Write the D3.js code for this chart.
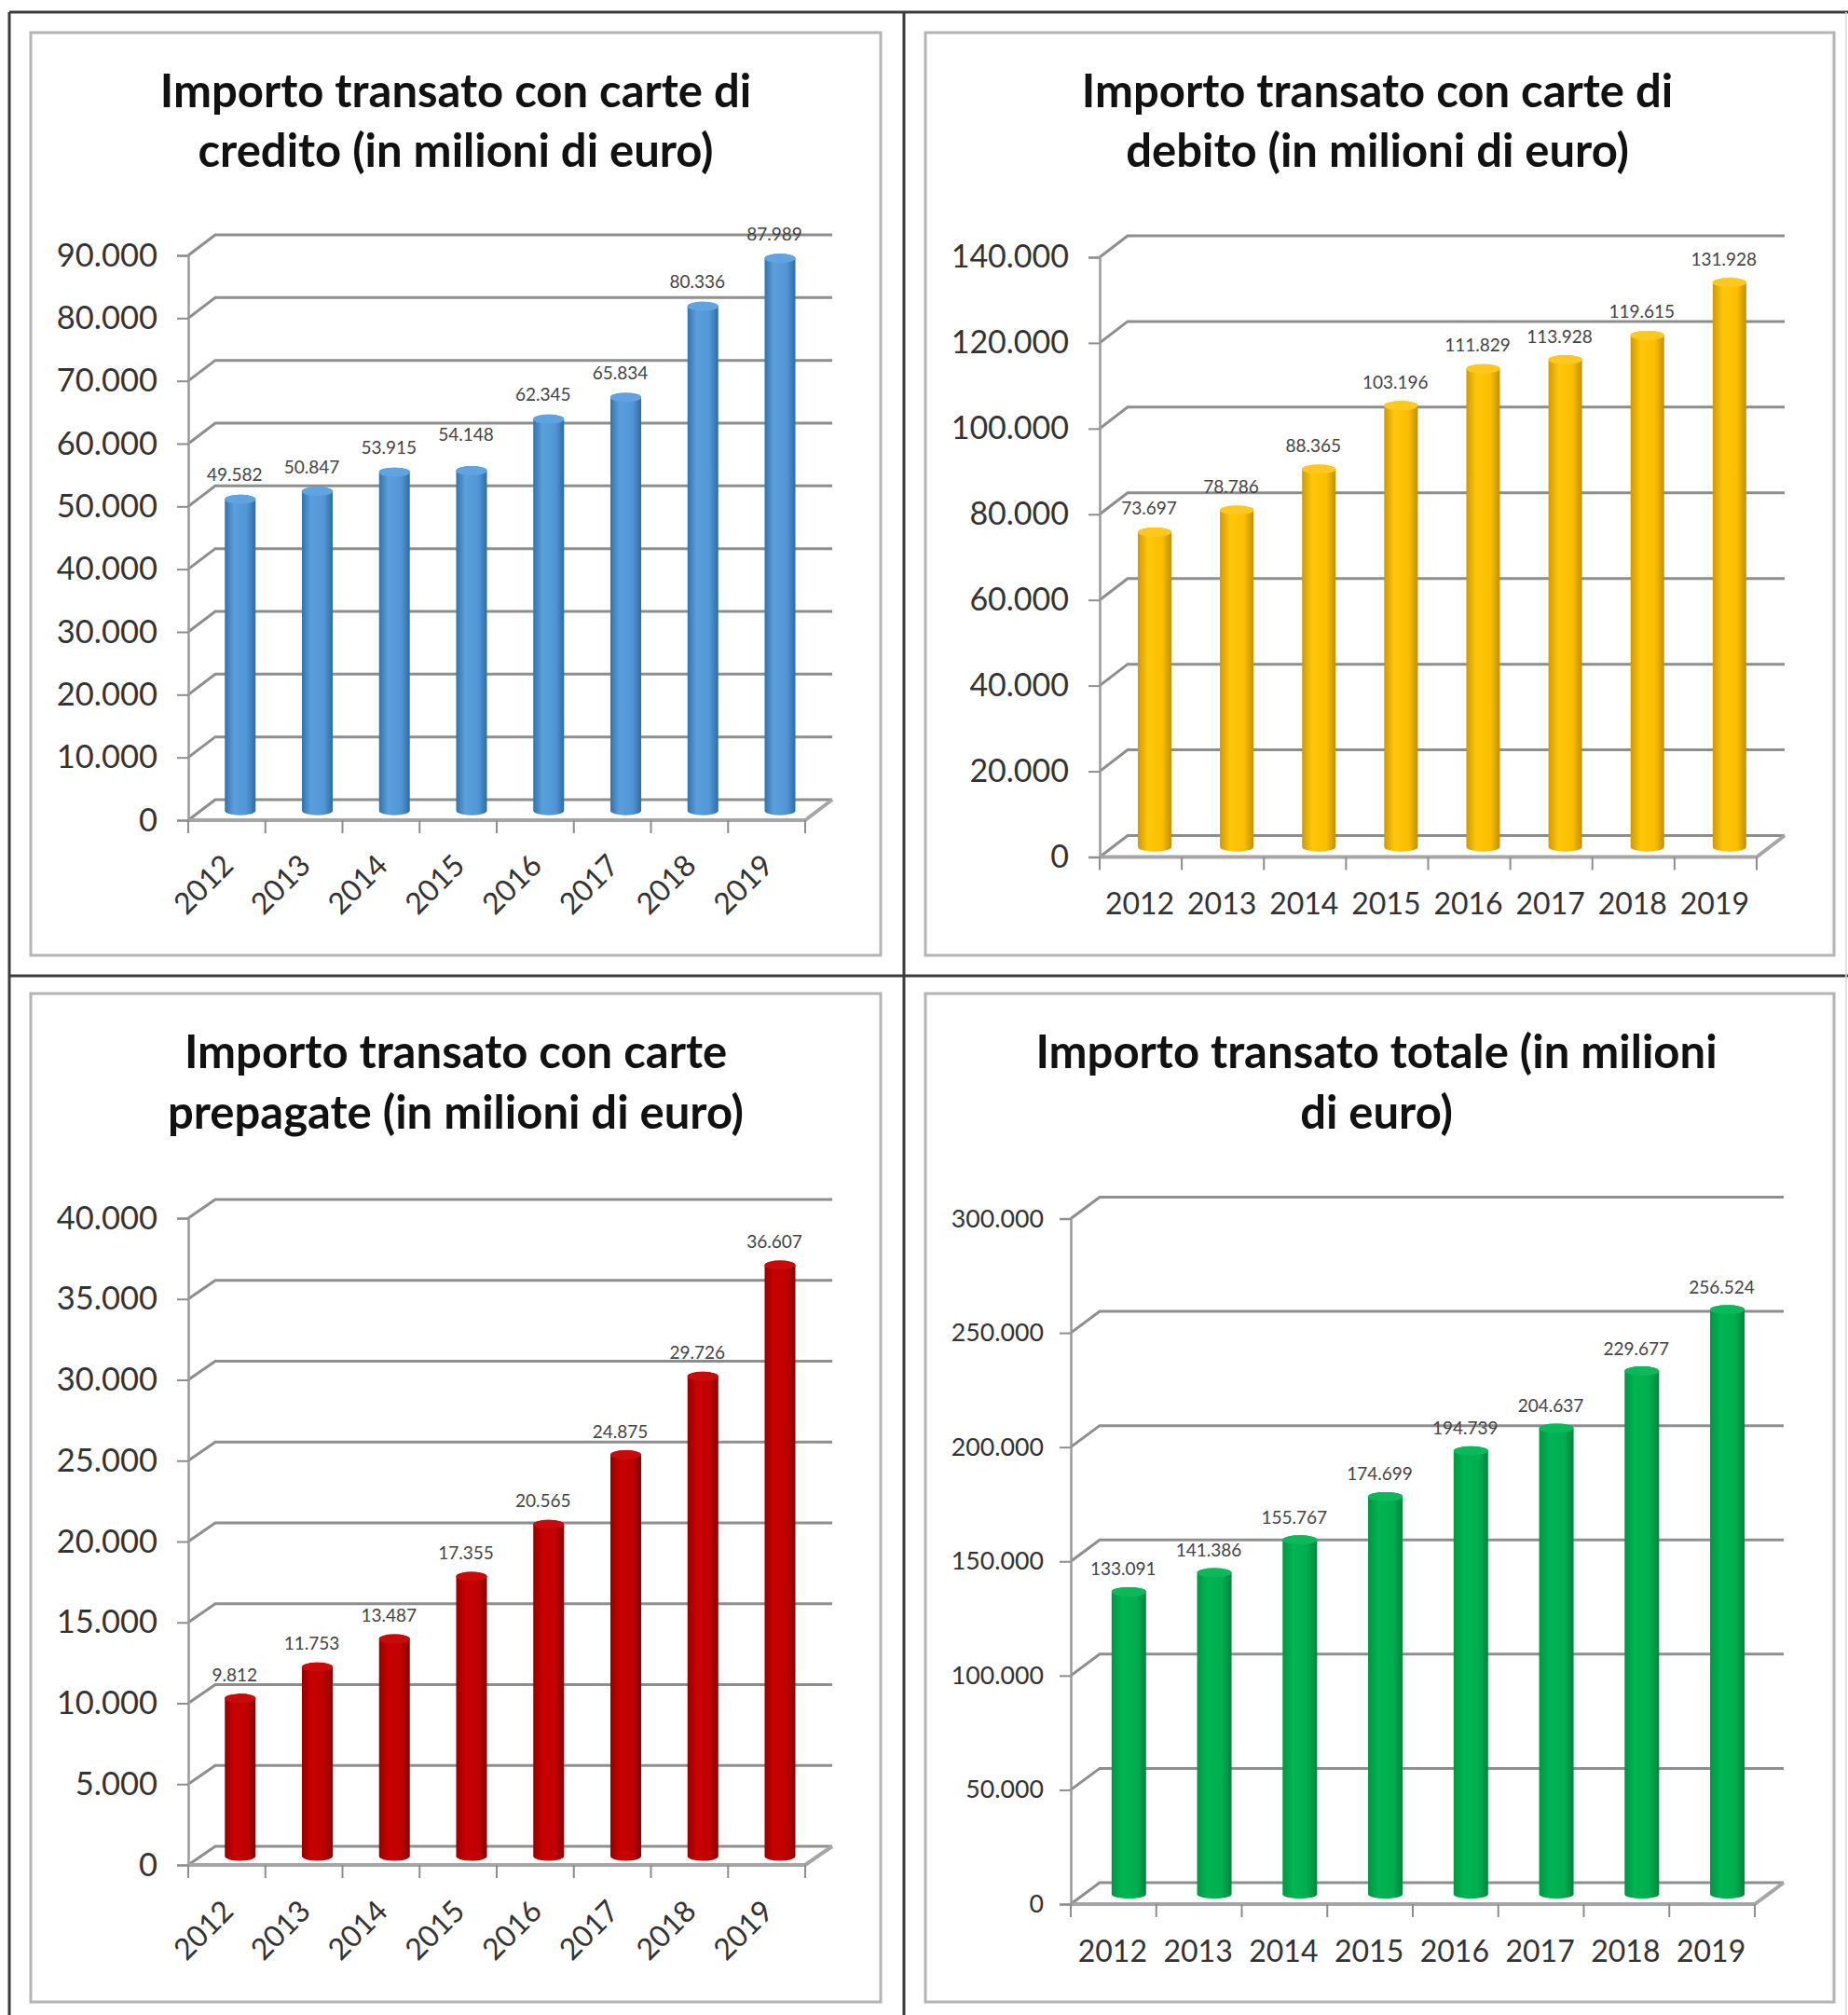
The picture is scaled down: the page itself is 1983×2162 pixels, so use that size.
<!DOCTYPE html>
<html>
<head>
<meta charset="utf-8">
<script src="https://cdn.jsdelivr.net/npm/d3@7"></script>
<style>
  html, body { margin: 0; padding: 0; background: #fff; }
  svg { display: block; }
  text { font-family: Lato, "Open Sans", sans-serif; }
</style>
</head>
<body>
<svg id="chart" width="1983" height="2162"></svg>
<script>
// Amounts transacted per year, in millions of euro
const years = [2012, 2013, 2014, 2015, 2016, 2017, 2018, 2019];
const creditValues = [49582, 50847, 53915, 54148, 62345, 65834, 80336, 87989];
const debitValues = [73697, 78786, 88365, 103196, 111829, 113928, 119615, 131928];
const prepaidValues = [9812, 11753, 13487, 17355, 20565, 24875, 29726, 36607];
const totalValues = [133091, 141386, 155767, 174699, 194739, 204637, 229677, 256524];

const creditTitle = ["Importo transato con carte di", "credito (in milioni di euro)"];
const debitTitle = ["Importo transato con carte di", "debito (in milioni di euro)"];
const prepaidTitle = ["Importo transato con carte", "prepagate (in milioni di euro)"];
const totalTitle = ["Importo transato totale (in milioni", "di euro)"];

// Panel geometry and styling
const panels = [
  { title: creditTitle, values: creditValues, max: 90000, step: 10000,
    box: [33, 35, 945, 1025], titleX: 489, titleY: [96, 160],
    front: [202, 864], y0: 880, yTop: 274, depth: [29, -22], barW: 33,
    tickFont: 34.5, yearFont: 32, rotated: true, yearY: 948, labelGap: 22, barTopDrop: 0, barShift: -1,
    colors: ["#3273ad", "#5b9fdc", "#5096d6", "#2f6ca6"], cap: "#5fa3e0", labelLift: { 2015: 13 } },
  { title: debitTitle, values: debitValues, max: 140000, step: 20000,
    box: [993, 35, 1968, 1025], titleX: 1478, titleY: [96, 160],
    front: [1180, 1885], y0: 919.5, yTop: 276, depth: [30, -23], barW: 36,
    tickFont: 34, yearFont: 32, rotated: false, yearY: 968, labelGap: 21, barTopDrop: 1, barShift: -1,
    colors: ["#d09a00", "#ffc60a", "#fcbf00", "#c29000"], cap: "#ffc81e", labelLift: {} },
  { title: prepaidTitle, values: prepaidValues, max: 40000, step: 5000,
    box: [33, 1066, 945, 2148], titleX: 489, titleY: [1127, 1192],
    front: [202, 864], y0: 2001, yTop: 1307, depth: [29, -20], barW: 33,
    tickFont: 34.5, yearFont: 32, rotated: true, yearY: 2070, labelGap: 21, barTopDrop: 1, barShift: -1,
    colors: ["#960000", "#c80000", "#c00000", "#880000"], cap: "#c80a0a", labelLift: {} },
  { title: totalTitle, values: totalValues, max: 300000, step: 50000,
    box: [993, 1066, 1968, 2148], titleX: 1477, titleY: [1127, 1192],
    front: [1149, 1883], y0: 2043, yTop: 1307.5, depth: [31, -23], barW: 37,
    tickFont: 26.7, yearFont: 32, rotated: false, yearY: 2092, labelGap: 20, barTopDrop: 2, barShift: 0,
    colors: ["#009644", "#00b552", "#00ae4e", "#00863c"], cap: "#0cb95a", labelLift: {} }
];

const svg = d3.select("#chart");
const defs = svg.append("defs");
const dotted = d3.formatLocale({ decimal: ",", thousands: ".", grouping: [3], currency: ["", "€"] }).format(",");

// Outer table rules separating the four panels
const rules = [[10, 13, 1983, 13], [10, 13, 10, 2162], [970, 13, 970, 2162], [10, 1047, 1983, 1047]];
svg.append("g").selectAll("line").data(rules).join("line")
  .attr("x1", d => d[0]).attr("y1", d => d[1]).attr("x2", d => d[2]).attr("y2", d => d[3])
  .attr("stroke", "#3c3c3c").attr("stroke-width", 3);
svg.append("line").attr("x1", 1981).attr("x2", 1981).attr("y1", 13).attr("y2", 2162)
  .attr("stroke", "#d8d8d8").attr("stroke-width", 1.5);

panels.forEach((p, idx) => {
  const g = svg.append("g");
  const [bx0, by0, bx1, by1] = p.box;
  const [dx, dy] = p.depth;

  g.append("rect").attr("x", bx0).attr("y", by0)
    .attr("width", bx1 - bx0).attr("height", by1 - by0)
    .attr("fill", "#fff").attr("stroke", "#b4b4b4").attr("stroke-width", 3);

  g.selectAll(".title").data(p.title).join("text")
    .attr("x", p.titleX).attr("y", (d, i) => p.titleY[i])
    .attr("dominant-baseline", "central").attr("text-anchor", "middle")
    .attr("font-size", 49).attr("font-weight", 700).attr("fill", "#111")
    .text(d => d);

  const x = d3.scaleBand().domain(years).range(p.front);
  const y = d3.scaleLinear().domain([0, p.max]).range([p.y0, p.yTop]);
  const ticks = d3.range(0, p.max + 1, p.step);

  // Back wall gridlines with the short diagonal joining each to the value axis
  const grid = g.append("g").attr("fill", "none").attr("stroke", "#8e8e8e").attr("stroke-width", 3);
  grid.selectAll("path").data(ticks).join("path")
    .attr("d", t => `M${p.front[0]},${y(t)}L${p.front[0] + dx},${y(t) + dy}L${p.front[1] + dx},${y(t) + dy}`);

  // Floor: front edge and right edge
  grid.append("path")
    .attr("d", `M${p.front[0]},${p.y0}L${p.front[1]},${p.y0}L${p.front[1] + dx},${p.y0 + dy}`)
    .attr("stroke", "#a6a6a6").attr("stroke-width", 4);

  // Value axis
  const yAxis = g.append("g").attr("transform", `translate(${p.front[0]},0)`)
    .call(d3.axisLeft(y).tickValues(ticks).tickFormat(dotted).tickSize(12).tickPadding(p.tickFont < 30 ? 17 : 21));
  yAxis.select(".domain").attr("stroke", "#9a9a9a").attr("stroke-width", 2.5);
  yAxis.selectAll(".tick line").attr("stroke", "#8e8e8e").attr("stroke-width", 2);
  yAxis.selectAll("text").attr("font-size", p.tickFont).attr("fill", "#333");

  // Category axis: tick marks sit on band edges, labels on band centres
  const xTicks = g.append("g");
  const edges = years.map(v => x(v)).concat(p.front[1]);
  xTicks.selectAll("line").data(edges).join("line")
    .attr("x1", d => d).attr("x2", d => d)
    .attr("y1", p.y0).attr("y2", p.y0 + 14)
    .attr("stroke", "#8e8e8e").attr("stroke-width", 2);
  const yearLabels = g.selectAll(".year").data(years).join("text")
    .attr("font-size", p.yearFont).attr("fill", "#333").attr("text-anchor", "middle")
    .attr("dominant-baseline", "central").text(d => d);
  if (p.rotated) {
    yearLabels.attr("transform", d => `translate(${x(d) + x.bandwidth() / 2 - 26},${p.yearY}) rotate(-45)`);
  } else {
    yearLabels.attr("x", d => x(d) + x.bandwidth() / 2 - 1).attr("y", p.yearY);
  }

  // Cylinder shading across the bar width
  const gradId = "cyl" + idx;
  const grad = defs.append("linearGradient").attr("id", gradId);
  [[0, p.colors[0]], [0.3, p.colors[1]], [0.72, p.colors[2]], [1, p.colors[3]]].forEach(s =>
    grad.append("stop").attr("offset", s[0]).attr("stop-color", s[1]));

  // Bars stand in the middle of the floor depth
  const midX = dx * 0.53 + p.barShift, midY = dy * 0.47;
  const ry = 5;
  const bars = g.append("g");
  const cx = d => x(d) + x.bandwidth() / 2 + midX;
  const rows = years.map((yr, i) => ({ yr, v: p.values[i] }));
  const topOf = d => y(d.v) + midY + p.barTopDrop;
  bars.selectAll("path").data(rows).join("path")
    .attr("fill", `url(#${gradId})`)
    .attr("d", d => {
      const r = p.barW / 2, c = cx(d.yr), top = topOf(d), base = p.y0 + midY;
      return `M${c - r},${top}L${c - r},${base}A${r},${ry} 0 0 0 ${c + r},${base}L${c + r},${top}A${r},${ry} 0 0 0 ${c - r},${top}Z`;
    });
  bars.selectAll("ellipse").data(rows).join("ellipse")
    .attr("cx", d => cx(d.yr)).attr("cy", topOf)
    .attr("rx", p.barW / 2).attr("ry", ry)
    .attr("fill", p.cap);

  // Value labels above each bar, shifted slightly left
  g.selectAll(".val").data(rows).join("text")
    .attr("x", d => cx(d.yr) - 6)
    .attr("y", d => topOf(d) - ry - p.labelGap - (p.labelLift[d.yr] || 0))
    .attr("text-anchor", "middle").attr("dominant-baseline", "central")
    .attr("font-size", 19).attr("fill", "#444")
    .text(d => dotted(d.v));
});
</script>
</body>
</html>
